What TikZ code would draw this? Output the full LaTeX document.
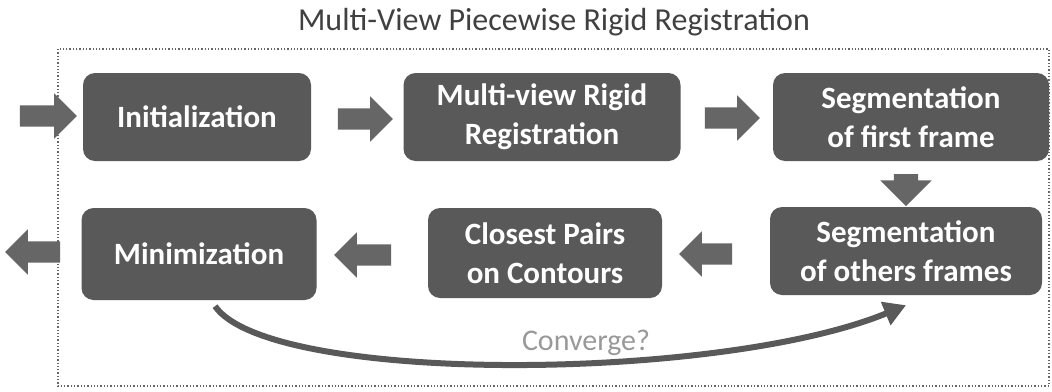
\documentclass[tikz,border=0pt]{standalone}
\usepackage{fontspec}
\setmainfont{Carlito}
\usetikzlibrary{shapes.arrows,arrows.meta}

\begin{document}
\begin{tikzpicture}[x=1pt,y=-1pt,
  stepbox/.style={fill=black!65,rounded corners=12pt,text=white,font=\bfseries\fontsize{31}{39}\selectfont,align=center,inner sep=0pt},
  blockarrow/.style={single arrow,fill=black!60,inner xsep=0pt,inner ysep=10.5pt,single arrow head extend=12pt},
  loopline/.style={draw=black!65,line width=6pt,-{Triangle[length=22pt,width=24pt]}}]
\useasboundingbox (0,0) rectangle (1052,391);
\node[text=black!75,font=\fontsize{32}{36}\selectfont] (title) at (554,22) {Multi-View Piecewise Rigid Registration};
\draw[black!60,line width=1.3pt,dotted] (58,49) rectangle (1049,386);
\node[stepbox,minimum width=228pt,minimum height=88pt] (init) at (197,117) {Initialization};
\node[stepbox,minimum width=277pt,minimum height=88pt] (mvrr) at (542,117) {Multi-view Rigid\\Registration};
\node[stepbox,minimum width=276pt,minimum height=88pt] (segfirst) at (911,117) {Segmentation\\of first frame};
\node[stepbox,minimum width=272pt,minimum height=88pt] (segother) at (906,251) {Segmentation\\of others frames};
\node[stepbox,minimum width=234pt,minimum height=90pt] (closest) at (545,253) {Closest Pairs\\on Contours};
\node[stepbox,minimum width=235pt,minimum height=92pt] (mini) at (199,254) {Minimization};
\node[blockarrow,minimum height=57pt] (ain) at (43,116) {};
\node[blockarrow,minimum height=55pt] (a1) at (360,119) {};
\node[blockarrow,minimum height=55pt] (a2) at (727,118) {};
\node[blockarrow,minimum height=32pt,inner xsep=12pt,inner ysep=0pt,single arrow head extend=13.5pt,shape border rotate=270] (a3) at (906,184) {};
\node[blockarrow,minimum height=53pt,shape border rotate=180] (a4) at (711,254) {};
\node[blockarrow,minimum height=57pt,shape border rotate=180] (a5) at (368,255) {};
\node[blockarrow,minimum height=55pt,shape border rotate=180] (aout) at (38,252) {};
\draw[loopline] ([xshift=16pt,yshift=-6pt]mini.south) .. controls (270,385) and (720,382) .. ([yshift=-10pt]segother.south);
\node[text=black!40,font=\fontsize{30}{34}\selectfont] (conv) at (586,343) {Converge?};
\end{tikzpicture}
\end{document}
